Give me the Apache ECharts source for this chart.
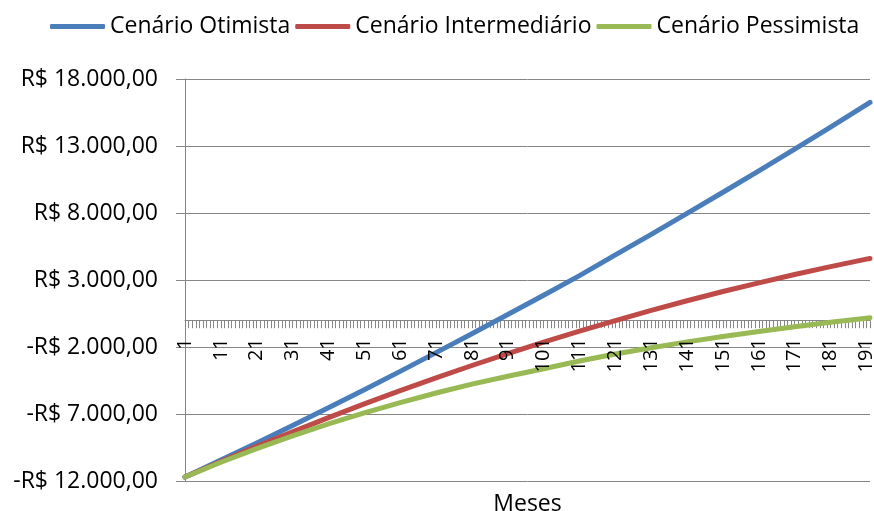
<!DOCTYPE html>
<html>
<head>
<meta charset="utf-8">
<script src="https://cdn.jsdelivr.net/npm/echarts@6/dist/echarts.min.js"></script>
<style>
  html, body { margin: 0; padding: 0; background: #fff; }
  #chart { width: 874px; height: 511px; }
</style>
</head>
<body>
<div id="chart"></div>
<script>
// Month categories shown on the horizontal axis
const months = [
  1,2,3,4,5,6,7,8,9,10,11,12,13,14,15,16,17,18,19,20,
  21,22,23,24,25,26,27,28,29,30,31,32,33,34,35,36,37,38,39,40,
  41,42,43,44,45,46,47,48,49,50,51,52,53,54,55,56,57,58,59,60,
  61,62,63,64,65,66,67,68,69,70,71,72,73,74,75,76,77,78,79,80,
  81,82,83,84,85,86,87,88,89,90,91,92,93,94,95,96,97,98,99,100,
  101,102,103,104,105,106,107,108,109,110,111,112,113,114,115,116,117,118,119,120,
  121,122,123,124,125,126,127,128,129,130,131,132,133,134,135,136,137,138,139,140,
  141,142,143,144,145,146,147,148,149,150,151,152,153,154,155,156,157,158,159,160,
  161,162,163,164,165,166,167,168,169,170,171,172,173,174,175,176,177,178,179,180,
  181,182,183,184,185,186,187,188,189,190,191,192
];

// Months at which the balances are given
const sampleMonths = [1, 11, 21, 31, 41, 51, 61, 71, 81, 91, 101, 111, 121, 131, 141, 151, 161, 171, 181, 191, 192];

// Accumulated balance (R$) per scenario at those months
const otimista = [-11700, -10440, -9160, -7860, -6530, -5190, -3820, -2420, -1010, 430, 1860, 3330, 4870, 6400, 7970, 9550, 11150, 12770, 14410, 16080, 16250];
const intermediario = [-11700, -10540, -9420, -8330, -7270, -6250, -5260, -4300, -3380, -2490, -1640, -810, -30, 730, 1450, 2140, 2790, 3410, 4000, 4560, 4610];
const pessimista = [-11700, -10600, -9580, -8630, -7740, -6920, -6150, -5430, -4770, -4180, -3620, -3040, -2520, -2060, -1620, -1220, -840, -490, -160, 150, 180];

// Value axis range and step
const yMin = -12000;
const yMax = 18000;
const yStep = 5000;

const FONT = 'Open Sans';
const GRAY = '#868686';

// Plot area edges (px)
const PLOT_TOP = 79;
const PLOT_BOTTOM = 481;

function brl(v) {
  const abs = Math.abs(Math.round(v));
  const s = String(abs).replace(/\B(?=(\d{3})+(?!\d))/g, '.');
  return (v < 0 ? '-R$ ' : 'R$ ') + s + ',00';
}

function pairs(vals) {
  return sampleMonths.map((m, i) => [months.indexOf(m), vals[i]]);
}

// The month axis sits on the zero line of the value axis
const zeroY = PLOT_TOP + (yMax / (yMax - yMin)) * (PLOT_BOTTOM - PLOT_TOP);
const xAxisOffset = -(PLOT_BOTTOM - zeroY);

const chart = echarts.init(document.getElementById('chart'), null, { renderer: 'canvas' });

const lineBase = {
  type: 'line',
  symbol: 'none',
  showSymbol: false,
  smooth: false,
  animation: false,
  xAxisIndex: 0,
  z: 2
};

const categoryAxisBase = {
  type: 'category',
  position: 'bottom',
  data: months.map(String),
  boundaryGap: false,
  offset: xAxisOffset,
  splitLine: { show: false }
};

chart.setOption({
  animation: false,
  backgroundColor: '#fff',
  legend: {
    left: 45,
    top: 10,
    icon: 'roundRect',
    itemWidth: 55,
    itemHeight: 5,
    itemGap: 5,
    textStyle: { fontFamily: FONT, fontSize: 23, color: '#000' },
    data: ['Cenário Otimista', 'Cenário Intermediário', 'Cenário Pessimista']
  },
  grid: {
    left: 185,
    right: 4,
    top: PLOT_TOP,
    bottom: 511 - PLOT_BOTTOM,
    containLabel: false,
    outerBoundsMode: 'none'
  },
  xAxis: [
    // axis line, monthly ticks and title
    Object.assign({}, categoryAxisBase, {
      z: 0,
      axisLine: { onZero: false, lineStyle: { color: GRAY, width: 1 } },
      axisTick: { interval: 0, length: 8, lineStyle: { color: GRAY } },
      axisLabel: { show: false },
      name: 'Meses',
      nameLocation: 'middle',
      nameGap: 173,
      nameTextStyle: { fontFamily: FONT, fontSize: 23, color: '#000' }
    }),
    // month labels, drawn above the lines
    Object.assign({}, categoryAxisBase, {
      z: 10,
      axisLine: { show: false, onZero: false },
      axisTick: { show: false },
      axisLabel: {
        interval: 9,
        rotate: 90,
        margin: 18,
        fontFamily: FONT,
        fontSize: 20,
        color: '#000'
      }
    })
  ],
  yAxis: {
    type: 'value',
    min: yMin,
    max: yMax,
    interval: yStep,
    axisLine: { show: true, lineStyle: { color: GRAY, width: 1 } },
    axisTick: { show: true, length: 9, lineStyle: { color: GRAY } },
    splitLine: { show: true, lineStyle: { color: GRAY, width: 1 } },
    axisLabel: {
      formatter: brl,
      margin: 27,
      fontFamily: FONT,
      fontSize: 23,
      color: '#000'
    }
  },
  series: [
    Object.assign({}, lineBase, {
      name: 'Cenário Otimista',
      data: pairs(otimista),
      itemStyle: { color: '#4A7EBB' },
      lineStyle: { color: '#4A7EBB', width: 5, cap: 'round', join: 'round' }
    }),
    Object.assign({}, lineBase, {
      name: 'Cenário Intermediário',
      data: pairs(intermediario),
      itemStyle: { color: '#BE4B48' },
      lineStyle: { color: '#BE4B48', width: 5, cap: 'round', join: 'round' }
    }),
    Object.assign({}, lineBase, {
      name: 'Cenário Pessimista',
      data: pairs(pessimista),
      itemStyle: { color: '#98B954' },
      lineStyle: { color: '#98B954', width: 5, cap: 'round', join: 'round' }
    })
  ]
});
</script>
</body>
</html>
